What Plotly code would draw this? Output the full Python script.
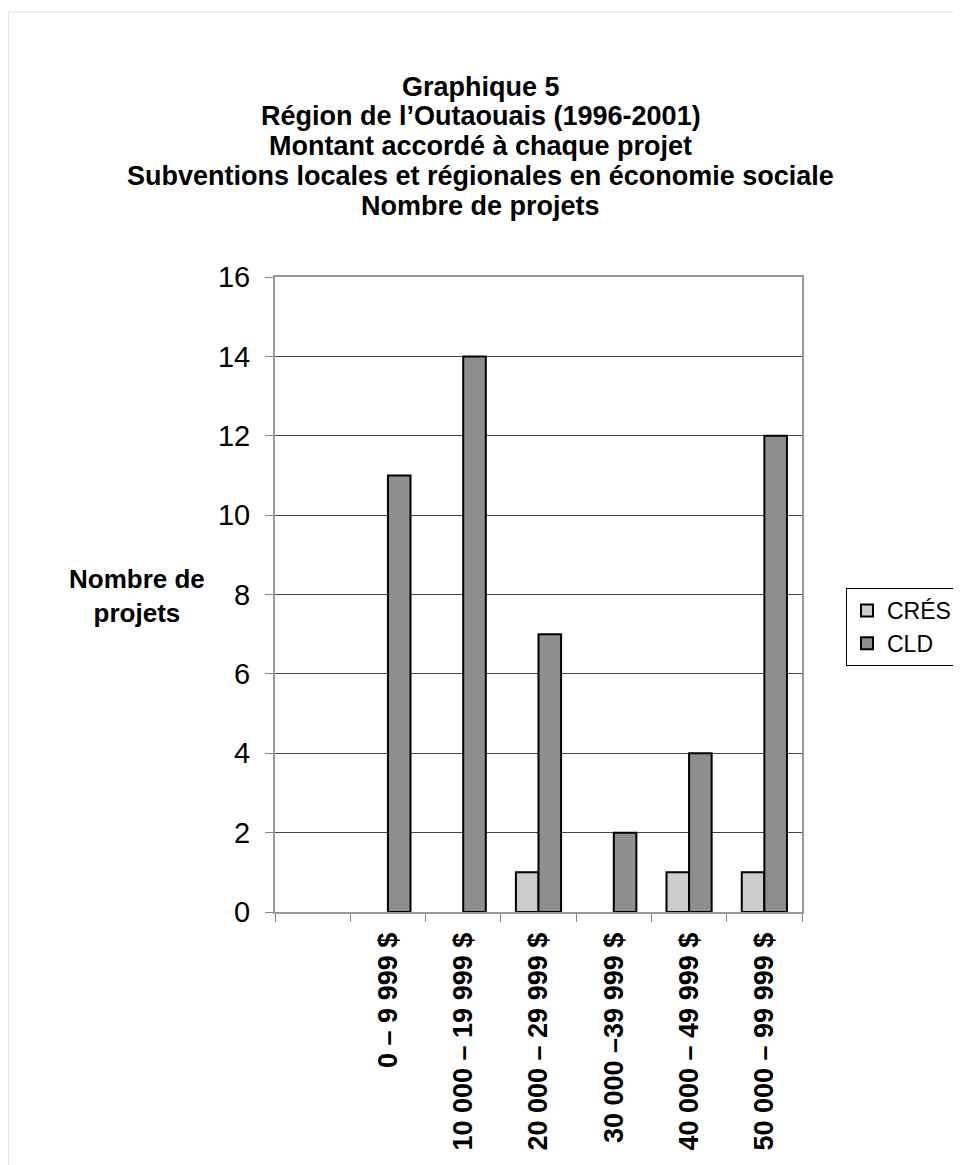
import plotly.graph_objects as go

categories = [" ", "0 – 9 999 $", "10 000 – 19 999 $", "20 000 – 29 999 $",
              "30 000 –39 999 $", "40 000 – 49 999 $", "50 000 – 99 999 $"]
cres = [None, None, None, 1, None, 1, 1]
cld = [None, 11, 14, 7, 2, 4, 12]
title_lines = ["Graphique 5", "Région de l’Outaouais (1996-2001)",
               "Montant accordé à chaque projet",
               "Subventions locales et régionales en économie sociale",
               "Nombre de projets"]
y_ticks = [0, 2, 4, 6, 8, 10, 12, 14, 16]

# page body has an 8px margin; work in window pixels and convert
OFF = 8
WIN_W, WIN_H = 961, 1165
W, H = WIN_W - OFF, WIN_H - OFF
# plot area in window pixels
PL, PR, PT, PB = 275, 802, 277, 912
ML, MR, MT, MB = PL - OFF, W - (PR - OFF), PT - OFF, H - (PB - OFF)
PW, PH = PR - PL, PB - PT

def px_x(x):
    return (x - PL) / PW

def px_y(y):
    return (PB - y) / PH

fig = go.Figure()
fig.add_trace(go.Bar(x=categories, y=cres, name="CRÉS",
                     marker=dict(color="#cccccc", line=dict(color="black", width=2))))
fig.add_trace(go.Bar(x=categories, y=cld, name="CLD",
                     marker=dict(color="#8e8e8e", line=dict(color="black", width=2))))

font_main = "Liberation Sans, Arial, sans-serif"
title_y = [87, 116, 146, 176, 206]
annotations = []
for t, py in zip(title_lines, title_y):
    annotations.append(dict(text="<b>%s</b>" % t, x=px_x(WIN_W / 2), y=px_y(py),
                            xref="paper", yref="paper", showarrow=False,
                            xanchor="center", yanchor="middle",
                            font=dict(size=27, color="black", family=font_main)))
annotations.append(dict(text="<b>Nombre de<br>projets</b>", x=px_x(137), y=px_y(596),
                        xref="paper", yref="paper", showarrow=False,
                        xanchor="center", yanchor="middle",
                        font=dict(size=26, color="black", family=font_main)))

fig.update_layout(
    width=W, height=H,
    margin=dict(l=ML, r=MR, t=MT, b=MB, autoexpand=False),
    paper_bgcolor="white", plot_bgcolor="white",
    font=dict(family=font_main, color="black"),
    barmode="group", bargap=0.4, bargroupgap=0,
    showlegend=True,
    legend=dict(x=px_x(846), y=px_y(588), xanchor="left", yanchor="top",
                bordercolor="black", borderwidth=1, bgcolor="white",
                font=dict(size=23, color="black", family=font_main),
                traceorder="normal"),
    annotations=annotations,
    shapes=[
        dict(type="line", xref="paper", yref="paper",
             x0=px_x(8.5), x1=px_x(8.5), y0=px_y(12), y1=px_y(1200),
             line=dict(color="#e8e8e8", width=1.5)),
        dict(type="line", xref="paper", yref="paper",
             x0=px_x(8.5), x1=px_x(1000), y0=px_y(12), y1=px_y(12),
             line=dict(color="#e8e8e8", width=1.5)),
    ],
)

fig.update_xaxes(
    type="category", categoryorder="array", categoryarray=categories,
    range=[-0.5, len(categories) - 0.5],
    tickangle=-90, tickfont=dict(size=27, color="black", family=font_main),
    tickprefix="<b>", ticksuffix="</b>", ticklabelstandoff=8,
    showline=True, linecolor="#999999", linewidth=2, mirror=True,
    ticks="outside", tickson="boundaries", ticklen=8, tickcolor="#888888", tickwidth=1,
    showgrid=False,
)
fig.update_yaxes(
    range=[0, 16], tickvals=y_ticks,
    tickfont=dict(size=29, color="black", family=font_main), ticklabelstandoff=9,
    showline=True, linecolor="#999999", linewidth=2, mirror=True,
    ticks="outside", ticklen=8, tickcolor="#888888", tickwidth=1,
    showgrid=True, gridcolor="#444444", gridwidth=1, zeroline=False,
)

fig.write_html("out.html")
